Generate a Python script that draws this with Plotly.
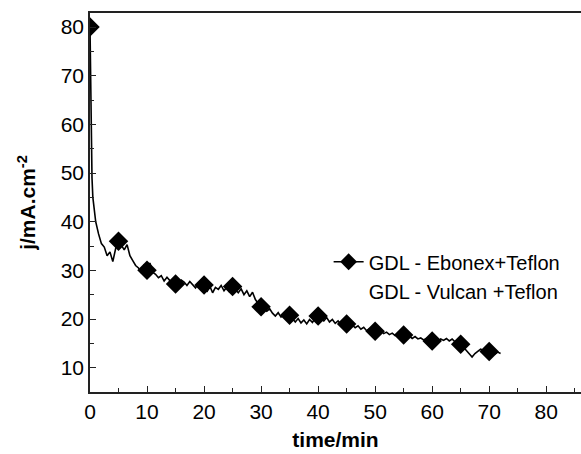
import plotly.graph_objects as go

time_min = [0, 0.1, 0.2, 0.35, 0.5, 0.75, 1.0, 1.5, 2.0, 2.5, 3.0, 3.5, 4.0, 4.5, 5.0, 5.5, 6.0, 6.5,
            7.0, 7.5, 8.0, 8.5, 9.0, 9.5, 10.0, 10.5, 11.0, 11.5, 12.0, 12.5, 13.0, 13.5, 14.0, 14.5,
            15.0, 15.5, 16.0, 16.5, 17.0, 17.5, 18.0, 18.5, 19.0, 19.5, 20.0, 20.5, 21.0, 21.5, 22.0,
            22.5, 23.0, 23.5, 24.0, 24.5, 25.0, 25.5, 26.0, 26.5, 27.0, 27.5, 28.0, 28.5, 29.0, 29.5,
            30.0, 30.5, 31.0, 31.5, 32.0, 32.5, 33.0, 33.5, 34.0, 34.5, 35.0, 35.5, 36.0, 36.5, 37.0,
            37.5, 38.0, 38.5, 39.0, 39.5, 40.0, 40.5, 41.0, 41.5, 42.0, 42.5, 43.0, 43.5, 44.0, 44.5,
            45.0, 45.5, 46.0, 46.5, 47.0, 47.5, 48.0, 48.5, 49.0, 49.5, 50.0, 50.5, 51.0, 51.5, 52.0,
            52.5, 53.0, 53.5, 54.0, 54.5, 55.0, 55.5, 56.0, 56.5, 57.0, 57.5, 58.0, 58.5, 59.0, 59.5,
            60.0, 60.5, 61.0, 61.5, 62.0, 62.5, 63.0, 63.5, 64.0, 64.5, 65.0, 65.5, 66.0, 66.5, 67.0,
            67.5, 68.0, 68.5, 69.0, 69.5, 70.0, 70.5, 71.0, 71.5, 72.0]
current = [80, 66, 56, 49, 45, 42, 40, 37.5, 35.5, 34.8, 33.0, 33.8, 31.8, 34.5, 36.0, 35.2, 34.2, 35.3,
           33.0, 32.0, 31.0, 30.5, 29.5, 31.2, 30.0, 31.5, 29.6, 29.2, 28.5, 28.9, 27.8, 28.6, 27.9, 27.5,
           27.2, 27.4, 28.0, 27.6, 26.9, 27.7, 27.1, 26.4, 27.3, 26.0, 27.0, 25.6, 26.8, 25.4, 26.5,
           26.1, 26.9, 25.8, 26.6, 25.5, 26.7, 26.0, 25.4, 26.2, 25.0, 25.8, 24.6, 25.5, 24.0, 23.2,
           22.5, 22.0, 21.6, 22.1, 21.2, 20.6, 21.3, 20.4, 21.0, 20.3, 20.8, 20.2, 19.4, 20.1, 19.2,
           19.8, 19.0, 19.9, 19.3, 20.2, 20.6, 20.0, 19.6, 20.3, 19.4, 19.9, 19.1, 19.6, 18.9, 19.4,
           19.0, 18.5, 18.8, 18.2, 18.6, 17.9, 18.3, 17.6, 18.0, 17.4, 17.7, 17.2, 17.6, 17.0, 17.3,
           16.8, 17.1, 16.6, 16.9, 16.5, 16.8, 16.3, 16.5, 16.0, 16.4, 15.9, 16.1, 15.7, 16.0, 15.5,
           15.5, 15.8, 15.4, 15.9, 15.6, 16.0, 15.5, 15.9, 15.3, 15.0, 14.8, 14.2, 13.5, 12.8, 12.2,
           12.9, 13.4, 13.8, 13.6, 13.9, 13.3, 13.0, 12.8, 13.2, 12.9]

marker_time = [0, 5, 10, 15, 20, 25, 30, 35, 40, 45, 50, 55, 60, 65, 70]
marker_current = [80, 36.0, 30.0, 27.2, 27.0, 26.7, 22.5, 20.8, 20.6, 19.0, 17.5, 16.7, 15.5, 14.8, 13.3]

series_names = ["GDL - Ebonex+Teflon", "GDL - Vulcan +Teflon"]

FONT = "Arial, Liberation Sans, sans-serif"

fig = go.Figure()
fig.add_trace(go.Scatter(x=time_min, y=current, mode="lines",
                         line=dict(color="black", width=1.6), showlegend=False))
fig.add_trace(go.Scatter(x=marker_time, y=marker_current, mode="markers",
                         marker=dict(symbol="diamond", size=15, color="black"), showlegend=False))
fig.add_trace(go.Scatter(x=[None], y=[None], mode="lines+markers", name=series_names[0],
                         line=dict(color="black", width=1.4),
                         marker=dict(symbol="diamond", size=13, color="black")))
fig.add_trace(go.Scatter(x=[None], y=[None], mode="lines", name=series_names[1],
                         line=dict(color="rgba(0,0,0,0)", width=1)))

axis_common = dict(showgrid=False, zeroline=False, showline=True, linecolor="#222", automargin=False,
                   linewidth=1.5, ticks="inside", tickcolor="#222", ticklen=6, tickwidth=1.3,
                   tickfont=dict(family=FONT, size=21, color="black"))

fig.update_layout(
    width=581, height=454,
    margin=dict(l=90, r=0, t=13, b=62),
    paper_bgcolor="white", plot_bgcolor="white",
    xaxis=dict(range=[0, 86.1], tickvals=[0, 10, 20, 30, 40, 50, 60, 70, 80], mirror=True,
               minor=dict(ticks="inside", dtick=5, ticklen=4, tickcolor="#222", tickwidth=1.3),
               title=dict(text="<b>time/min</b>", font=dict(family=FONT, size=21, color="black"), standoff=10),
               **axis_common),
    yaxis=dict(range=[5, 82.9], tickvals=[10, 20, 30, 40, 50, 60, 70, 80], mirror=False,
               minor=dict(ticks="inside", dtick=5, ticklen=4, tickcolor="#222", tickwidth=1.3),
               title=dict(text="<b>j/mA.cm<sup>-2</sup></b>", font=dict(family=FONT, size=21, color="black"), standoff=19),
               **axis_common),
    legend=dict(x=0.486, y=0.395, xanchor="left", yanchor="top", bgcolor="rgba(0,0,0,0)",
                font=dict(family=FONT, size=20, color="black"), tracegroupgap=0, itemwidth=30),
)

fig.write_html("out.html", config={"displayModeBar": False},
               post_script="document.body.style.margin='0';document.body.style.overflow='hidden';")
